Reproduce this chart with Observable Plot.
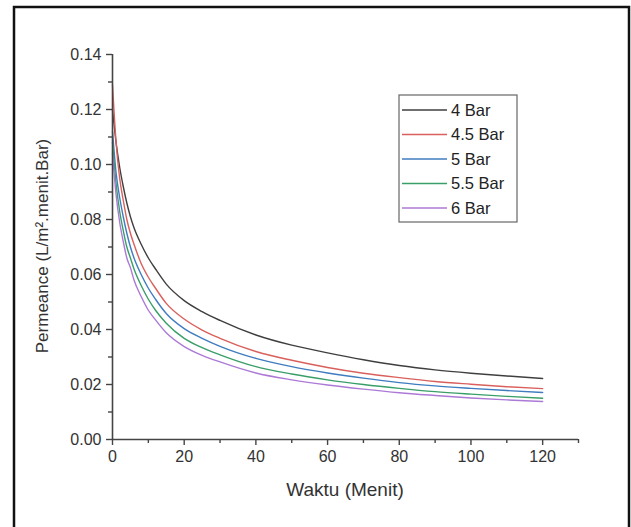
<!DOCTYPE html>
<html>
<head>
<meta charset="utf-8">
<script src="https://cdn.jsdelivr.net/npm/d3@7"></script>
<script src="https://cdn.jsdelivr.net/npm/@observablehq/plot@0.6"></script>
<style>
  html, body { margin: 0; padding: 0; background: #fff; }
  #chart { position: relative; width: 631px; height: 527px; }
</style>
</head>
<body>
<div id="chart"></div>
<script>
const times = [0, 1, 2, 3, 4, 5, 6, 8, 10, 12, 15, 20, 25, 30, 40, 50, 60, 70, 80, 90, 100, 110, 120];
const series = ["4 Bar", "4.5 Bar", "5 Bar", "5.5 Bar", "6 Bar"];
const colors = ["#3f3f3f", "#d9605c", "#3f7cc0", "#3a9e68", "#ac7ad6"];
const p4 = [0.120, 0.108, 0.099, 0.092, 0.086, 0.081, 0.077, 0.071, 0.066, 0.062, 0.0565, 0.0505, 0.0465, 0.0433, 0.038, 0.0343, 0.0315, 0.0290, 0.0269, 0.0253, 0.0241, 0.0231, 0.0222];
const p45 = [0.129, 0.108, 0.095, 0.087, 0.080, 0.075, 0.071, 0.064, 0.059, 0.055, 0.0495, 0.0438, 0.0398, 0.0368, 0.032, 0.0288, 0.0262, 0.0241, 0.0225, 0.0211, 0.0201, 0.0192, 0.0185];
const p5 = [0.112, 0.097, 0.088, 0.081, 0.075, 0.070, 0.066, 0.060, 0.055, 0.051, 0.0458, 0.0403, 0.0368, 0.0339, 0.0295, 0.0265, 0.0242, 0.0223, 0.0207, 0.0195, 0.0186, 0.0178, 0.0171];
const p55 = [0.108, 0.093, 0.083, 0.076, 0.070, 0.066, 0.062, 0.056, 0.051, 0.047, 0.0423, 0.0368, 0.0334, 0.0308, 0.0265, 0.0238, 0.0217, 0.0200, 0.0186, 0.0174, 0.0165, 0.0157, 0.0150];
const p6 = [0.104, 0.089, 0.079, 0.072, 0.066, 0.0625, 0.058, 0.052, 0.047, 0.0435, 0.0388, 0.0338, 0.0306, 0.0282, 0.0242, 0.0217, 0.0198, 0.0183, 0.0170, 0.0160, 0.0151, 0.0144, 0.0138];
const xMajorTicks = [0, 20, 40, 60, 80, 100, 120];
const xMinorTicks = [10, 30, 50, 70, 90, 110, 130];
const yMajorTicks = [0, 0.02, 0.04, 0.06, 0.08, 0.10, 0.12, 0.14];
const yMinorTicks = [0.01, 0.03, 0.05, 0.07, 0.09, 0.11, 0.13];
const xLabel = "Waktu (Menit)";
const yLabel = "Permeance (L/m².menit.Bar)";

const allSeries = [p4, p45, p5, p55, p6];
const data = [];
allSeries.forEach((vals, i) => vals.forEach((v, j) => data.push({series: series[i], t: times[j], p: v})));

const font = "'Liberation Sans', Arial, sans-serif";
const axisColor = "#444";
const plot = Plot.plot({
  width: 631,
  height: 527,
  marginLeft: 112,
  marginRight: 53,
  marginTop: 54,
  marginBottom: 88,
  style: {fontFamily: font, fontSize: "16px", color: "#333", background: "white"},
  x: {domain: [0, 130], label: null},
  y: {domain: [0, 0.14], label: null},
  color: {domain: series, range: colors},
  marks: [
    Plot.line(data, {x: "t", y: "p", z: "series", stroke: "series", strokeWidth: 1.4, curve: "monotone-x"}),
    Plot.ruleX([0], {y1: 0, y2: 0.14, stroke: axisColor, strokeWidth: 1.6}),
    Plot.ruleY([0], {x1: 0, x2: 130, stroke: axisColor, strokeWidth: 1.6}),
    Plot.axisX(xMajorTicks, {tickSize: 6, tickPadding: 5, stroke: axisColor, strokeWidth: 1.4, tickFormat: d => String(d), fontSize: 16, label: null}),
    Plot.axisX(xMinorTicks, {tickSize: 4, stroke: axisColor, strokeWidth: 1.4, tickFormat: () => "", label: null}),
    Plot.axisY(yMajorTicks, {tickSize: 6, tickPadding: 5, stroke: axisColor, strokeWidth: 1.4, tickFormat: d => d.toFixed(2), fontSize: 16, label: null}),
    Plot.axisY(yMinorTicks, {tickSize: 4, stroke: axisColor, strokeWidth: 1.4, tickFormat: () => "", label: null})
  ]
});

document.getElementById("chart").appendChild(plot);

const svg = d3.select(plot);
// outer frame
svg.append("rect").attr("x", 14).attr("y", 7).attr("width", 615).attr("height", 530)
  .attr("fill", "none").attr("stroke", "#111").attr("stroke-width", 2.5);

// axis titles
svg.append("text").attr("x", 345).attr("y", 496).attr("text-anchor", "middle")
  .style("font-family", font).style("font-size", "19px").attr("fill", "#333")
  .text(xLabel);
svg.append("text").attr("transform", "translate(48,246) rotate(-90)").attr("text-anchor", "middle")
  .style("font-family", font).style("font-size", "17px").attr("fill", "#333")
  .text(yLabel);

// legend
const lg = svg.append("g");
lg.append("rect").attr("x", 399).attr("y", 95).attr("width", 118).attr("height", 127)
  .attr("fill", "white").attr("stroke", "#666").attr("stroke-width", 1.2);
series.forEach((s, i) => {
  const y = 110 + i * 24.5;
  lg.append("line").attr("x1", 402).attr("x2", 447).attr("y1", y).attr("y2", y)
    .attr("stroke", colors[i]).attr("stroke-width", 1.6);
  lg.append("text").attr("x", 451).attr("y", y).attr("dy", "0.36em").attr("text-anchor", "start")
    .style("font-family", font).style("font-size", "16.5px").attr("fill", "#222")
    .text(s);
});
</script>
</body>
</html>
